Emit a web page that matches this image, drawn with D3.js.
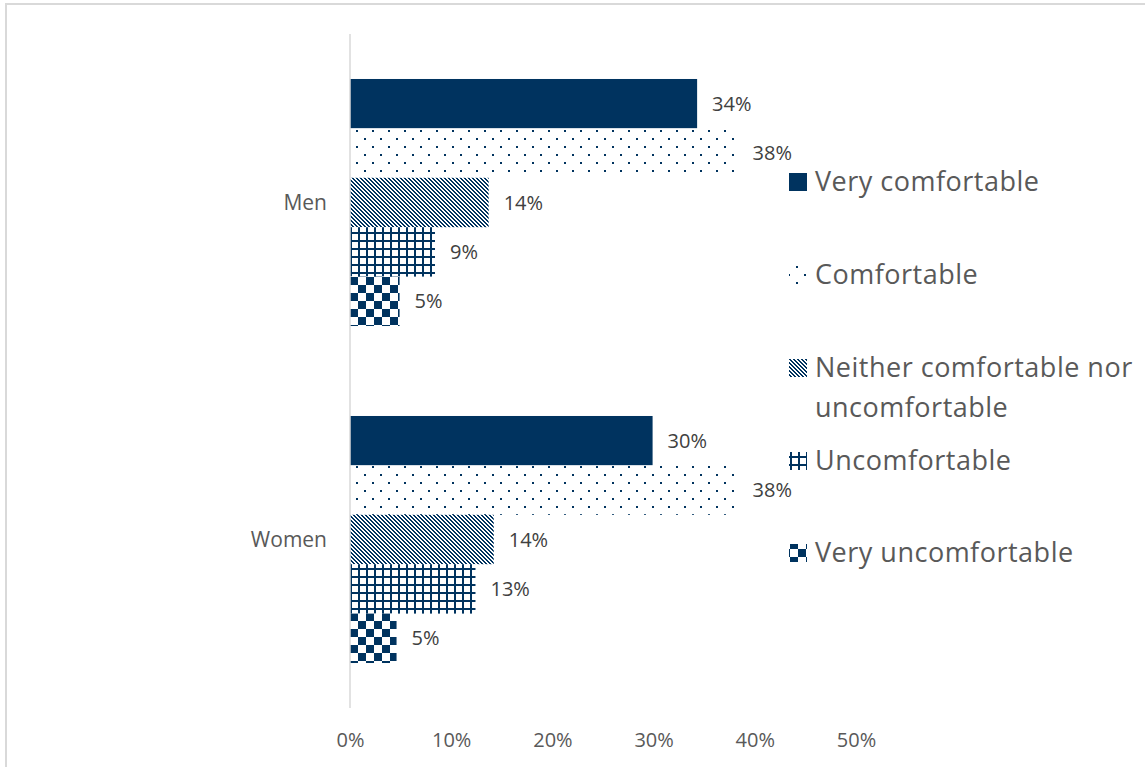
<!DOCTYPE html>
<html>
<head>
<meta charset="utf-8">
<script src="https://cdn.jsdelivr.net/npm/d3@7"></script>
<style>
  html, body { margin: 0; padding: 0; background: #fff; }
  svg { display: block; font-family: "Open Sans", "Noto Sans", sans-serif; }
</style>
</head>
<body>
<svg id="chart" width="1145" height="767"></svg>
<script>
const categories = ["Men", "Women"];
const seriesNames = ["Very comfortable", "Comfortable", "Neither comfortable nor uncomfortable", "Uncomfortable", "Very uncomfortable"];
const legendLines = [["Very comfortable"], ["Comfortable"], ["Neither comfortable nor", "uncomfortable"], ["Uncomfortable"], ["Very uncomfortable"]];
const menValues = [0.343, 0.383, 0.137, 0.084, 0.049];
const womenValues = [0.299, 0.383, 0.142, 0.124, 0.046];
const menLabels = ["34%", "38%", "14%", "9%", "5%"];
const womenLabels = ["30%", "38%", "14%", "13%", "5%"];
const tickValues = [0, 0.1, 0.2, 0.3, 0.4, 0.5];
const tickLabels = ["0%", "10%", "20%", "30%", "40%", "50%"];

const NAVY = "#00335f";
const svg = d3.select("#chart");

// chart border
svg.append("rect").attr("x", 6).attr("y", 4).attr("width", 1160).attr("height", 790)
  .attr("fill", "#fff").attr("stroke", "#d9d9d9").attr("stroke-width", 2);

// patterns
const defs = svg.append("defs");
// dots
let p = defs.append("pattern").attr("id", "p1").attr("patternUnits", "userSpaceOnUse").attr("width", 16).attr("height", 16).attr("x", 354).attr("y", 0);
p.append("rect").attr("width", 16).attr("height", 16).attr("fill", "#fff");
p.append("rect").attr("x", 2).attr("y", 2).attr("width", 2).attr("height", 2).attr("fill", NAVY);
p.append("rect").attr("x", 10).attr("y", 10).attr("width", 2).attr("height", 2).attr("fill", NAVY);
// diagonal (pixel staircase, 2px wide)
p = defs.append("pattern").attr("id", "p2").attr("patternUnits", "userSpaceOnUse").attr("width", 4).attr("height", 4).attr("x", 350).attr("y", 0);
p.append("rect").attr("width", 4).attr("height", 4).attr("fill", "#fff");
[0, 1, 2, 3].forEach(k => {
  p.append("rect").attr("x", k).attr("y", k).attr("width", 1).attr("height", 1).attr("fill", NAVY).attr("shape-rendering", "crispEdges");
  p.append("rect").attr("x", (k + 1) % 4).attr("y", k).attr("width", 1).attr("height", 1).attr("fill", NAVY).attr("shape-rendering", "crispEdges");
});
// grid
p = defs.append("pattern").attr("id", "p3").attr("patternUnits", "userSpaceOnUse").attr("width", 8).attr("height", 8).attr("x", 350).attr("y", 0);
p.append("rect").attr("width", 8).attr("height", 8).attr("fill", NAVY);
p.append("rect").attr("x", 2).attr("y", 2).attr("width", 6).attr("height", 6).attr("fill", "#fff");
// checker
p = defs.append("pattern").attr("id", "p4").attr("patternUnits", "userSpaceOnUse").attr("width", 16).attr("height", 16).attr("x", 350).attr("y", 277);
p.append("rect").attr("width", 16).attr("height", 16).attr("fill", "#fff");
p.append("rect").attr("x", 0).attr("y", 0).attr("width", 8).attr("height", 8).attr("fill", NAVY);
p.append("rect").attr("x", 8).attr("y", 8).attr("width", 8).attr("height", 8).attr("fill", NAVY);
const fills = [NAVY, "url(#p1)", "url(#p2)", "url(#p3)", "url(#p4)"];

// scales
const x = d3.scaleLinear().domain([0, 0.5]).range([350, 856]);
const y0 = d3.scaleBand().domain(categories).range([34, 708]).paddingInner(0.267).paddingOuter(0.1335);
const y1 = d3.scaleBand().domain(seriesNames).range([0, y0.bandwidth()]);

const data = [];
categories.forEach((c, ci) => {
  const vals = ci === 0 ? menValues : womenValues;
  const labs = ci === 0 ? menLabels : womenLabels;
  seriesNames.forEach((s, si) => data.push({cat: c, series: s, si, value: vals[si], label: labs[si]}));
});

const bars = svg.append("g");
bars.selectAll("rect").data(data).join("rect")
  .attr("x", x(0))
  .attr("y", d => y0(d.cat) + y1(d.series))
  .attr("width", d => x(d.value) - x(0))
  .attr("height", y1.bandwidth())
  .attr("fill", d => fills[d.si]);

bars.selectAll("text").data(data).join("text")
  .attr("x", d => x(d.value) + 15)
  .attr("y", d => y0(d.cat) + y1(d.series) + y1.bandwidth() / 2)
  .attr("dy", "0.35em")
  .attr("font-size", 20)
  .attr("fill", "#404040")
  .text(d => d.label);

// vertical axis line
svg.append("line").attr("x1", x(0)).attr("x2", x(0)).attr("y1", 34).attr("y2", 708)
  .attr("stroke", "#d9d9d9").attr("stroke-width", 1.5);

// category labels
svg.append("g").selectAll("text").data(categories).join("text")
  .attr("x", 327).attr("y", d => y0(d) + y0.bandwidth() / 2)
  .attr("dy", "0.35em").attr("text-anchor", "end")
  .attr("font-size", 21).attr("fill", "#595959").text(d => d);

// x axis
const xAxis = d3.axisBottom(x).tickValues(tickValues).tickFormat((d, i) => tickLabels[i]).tickSize(0).tickPadding(0);
const gx = svg.append("g").attr("transform", "translate(0,733)").call(xAxis);
gx.select(".domain").remove();
gx.selectAll("text").attr("font-size", 20).attr("fill", "#595959").attr("font-family", "Open Sans, sans-serif");

// legend
const legBaselines = [191, 284, 377, 470, 562];
const leg = svg.append("g");
seriesNames.forEach((s, i) => {
  const b = legBaselines[i];
  leg.append("rect").attr("x", 789).attr("y", b - 18).attr("width", 18).attr("height", 18).attr("fill", fills[i]);
  const t = leg.append("text").attr("x", 815).attr("y", b).attr("font-size", 27).attr("letter-spacing", 0.5).attr("fill", "#595959");
  legendLines[i].forEach((ln, li) => t.append("tspan").attr("x", 815).attr("dy", li === 0 ? 0 : 40).text(ln));
});
</script>
</body>
</html>
